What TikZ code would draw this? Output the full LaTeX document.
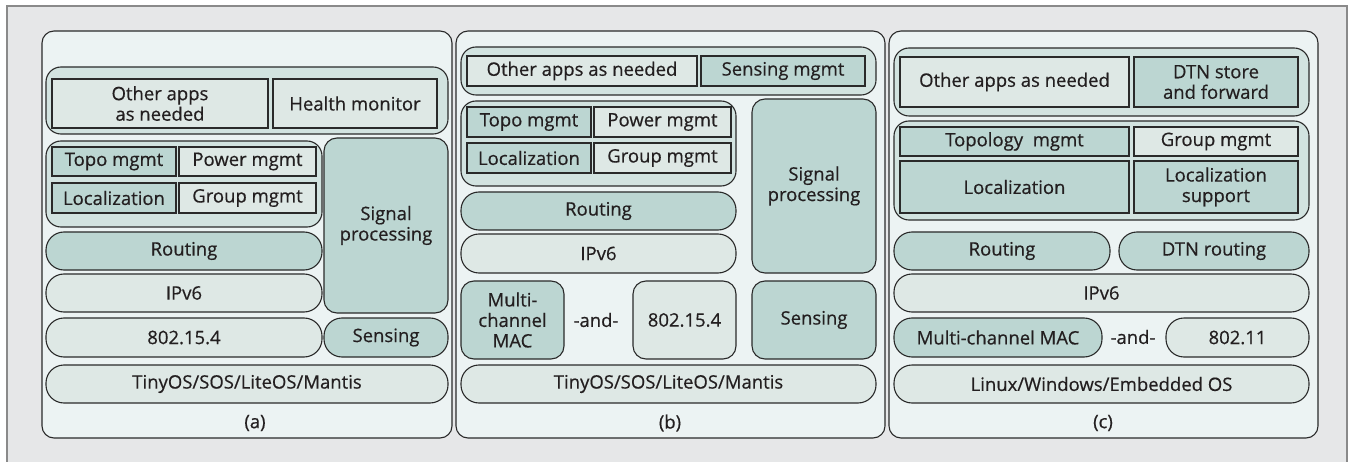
\documentclass[tikz,border=0pt]{standalone}
\usepackage{fontspec}
\newfontfamily\diagfont{Open Sans}[FakeBold=0.5]
\definecolor{bgc}{HTML}{E6E7E8}
\definecolor{framec}{HTML}{8A8A8A}
\definecolor{panelc}{HTML}{ECF3F3}
\definecolor{grpc}{HTML}{D2E3E0}
\definecolor{lightc}{HTML}{DEE8E5}
\definecolor{darkc}{HTML}{BCD6D2}
\definecolor{linec}{HTML}{2A2A2A}
\definecolor{textc}{HTML}{231F20}
\newcommand\bx[7]{\node[#2, minimum width={(#5-#3)*1pt}, minimum height={(#6-#4)*1pt}] (#1) at ({(#3+#5)/2},{(#4+#6)/2}) {#7};}
\begin{document}
\begin{tikzpicture}[x=1pt,y=-1pt,
  every node/.style={inner sep=0pt, outer sep=0pt, align=center, font=\diagfont\fontsize{18.5}{20.5}\selectfont, text=textc},
  base/.style={draw=linec, line width=1.1pt},
  panel/.style={base, fill=panelc, rounded corners=12pt},
  grp/.style={base, fill=grpc, rounded corners=15pt},
  lpill/.style={base, fill=lightc, rounded corners=18pt},
  dpill/.style={base, fill=darkc, rounded corners=18pt},
  lround/.style={base, fill=lightc, rounded corners=13pt},
  dround/.style={base, fill=darkc, rounded corners=13pt},
  lsq/.style={base, fill=lightc},
  dsq/.style={base, fill=darkc}
]
\useasboundingbox (0,0) rectangle (1351,462);
\fill[white] (0,0) rectangle (1351,462);
\fill[bgc, draw=framec, line width=1.5pt] (7,6) rectangle (1347,480);
% ---------------- panel (a)
\bx{pa}{panel}{42}{31}{452}{438}{}
\bx{ga1}{grp}{46}{67}{448}{134}{}
\bx{a1}{lsq}{52}{79}{268}{128}{Other apps\\as needed}
\bx{a2}{lsq}{273}{79}{437}{128}{Health monitor}
\bx{ga2}{grp}{46}{141}{322}{227}{}
\bx{a3}{dsq}{52}{147}{176}{176}{Topo mgmt}
\bx{a4}{lsq}{179}{147}{316}{176}{Power mgmt}
\bx{a5}{dsq}{52}{183}{176}{213}{Localization}
\bx{a6}{lsq}{179}{183}{316}{213}{Group mgmt}
\bx{a7}{dround}{324}{138}{448}{313}{Signal\\processing}
\bx{a8}{dpill}{46}{232}{322}{270}{Routing}
\bx{a9}{lpill}{46}{274}{322}{312}{IPv6}
\bx{a10}{lpill}{46}{318}{322}{357}{802.15.4}
\bx{a11}{dpill}{324}{318}{448}{357}{Sensing}
\bx{a12}{lpill}{46}{365}{448}{403}{TinyOS/SOS/LiteOS/Mantis}
\node (la) at (255,423) {(a)};
% ---------------- panel (b)
\bx{pb}{panel}{456}{31}{885}{438}{}
\bx{gb1}{grp}{461}{47}{876}{95}{}
\bx{b1}{lsq}{467}{56}{697}{86}{Other apps as needed}
\bx{b2}{dsq}{701}{56}{865}{86}{Sensing mgmt}
\bx{gb2}{grp}{461}{101}{736}{186}{}
\bx{b3}{dsq}{467}{107}{591}{137}{Topo mgmt}
\bx{b4}{lsq}{594}{107}{731}{137}{Power mgmt}
\bx{b5}{dsq}{467}{143}{591}{173}{Localization}
\bx{b6}{lsq}{594}{143}{731}{173}{Group mgmt}
\bx{b7}{dround}{752}{99}{876}{273}{Signal\\processing}
\bx{b8}{dpill}{461}{192}{736}{230}{Routing}
\bx{b9}{lpill}{461}{234}{736}{273}{IPv6}
\bx{b10}{dround}{461}{281}{564}{359}{Multi-\\channel\\MAC}
\node (band) at (596,320) {-and-};
\bx{b11}{lround}{633}{281}{736}{359}{802.15.4}
\bx{b12}{dround}{752}{281}{876}{359}{Sensing}
\bx{b13}{lpill}{461}{365}{876}{403}{TinyOS/SOS/LiteOS/Mantis}
\node (lb) at (670,423) {(b)};
% ---------------- panel (c)
\bx{pc}{panel}{889}{31}{1318}{438}{}
\bx{gc1}{grp}{894}{48}{1309}{116}{}
\bx{c1}{lsq}{900}{57}{1129}{107}{Other apps as needed}
\bx{c2}{dsq}{1134}{57}{1298}{107}{DTN store\\and forward}
\bx{gc2}{grp}{894}{121}{1309}{220}{}
\bx{c3}{dsq}{900}{127}{1129}{156}{Topology\ \ mgmt}
\bx{c4}{lsq}{1134}{127}{1298}{156}{Group mgmt}
\bx{c5}{dsq}{900}{161}{1129}{213}{Localization}
\bx{c6}{dsq}{1134}{161}{1298}{213}{Localization\\support}
\bx{c7}{dpill}{894}{232}{1110}{270}{Routing}
\bx{c8}{dpill}{1119}{232}{1309}{270}{DTN routing}
\bx{c9}{lpill}{894}{274}{1309}{312}{IPv6}
\bx{c10}{dpill}{894}{318}{1102}{357}{Multi-channel MAC}
\node (cand) at (1133,337) {-and-};
\bx{c11}{lpill}{1166}{318}{1309}{357}{802.11}
\bx{c12}{lpill}{894}{365}{1309}{403}{Linux/Windows/Embedded OS}
\node (lc) at (1103,423) {(c)};
\end{tikzpicture}
\end{document}
